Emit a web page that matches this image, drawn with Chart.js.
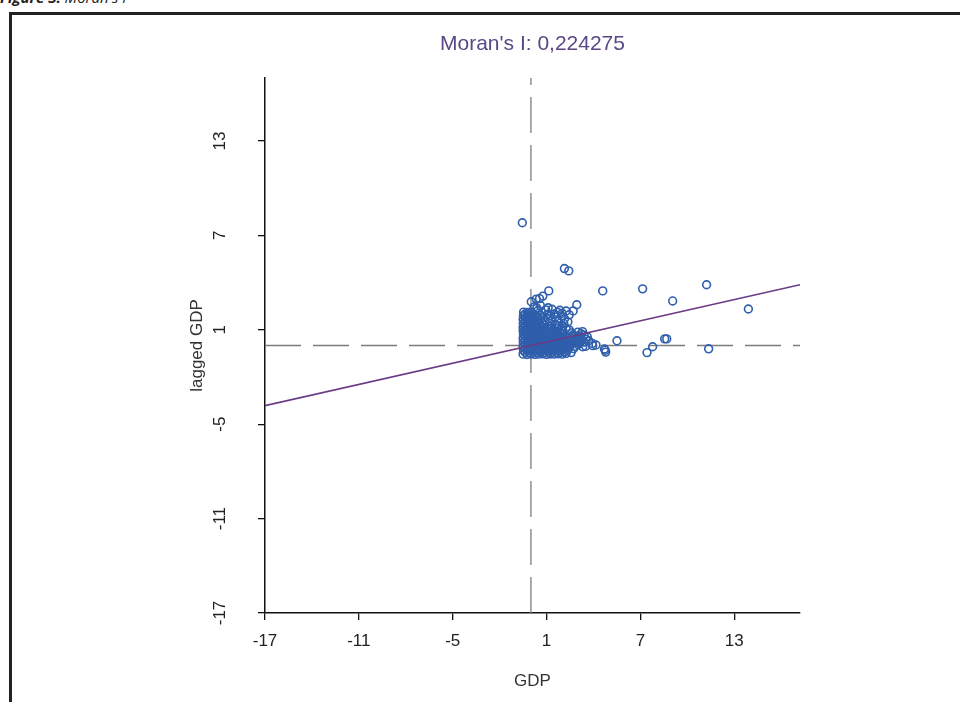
<!DOCTYPE html>
<html><head><meta charset="utf-8">
<script src="https://cdn.jsdelivr.net/npm/chart.js@4.4.1/dist/chart.umd.min.js"></script>
<style>
html,body{margin:0;padding:0;background:#fff;width:960px;height:702px;overflow:hidden;}
#cap{position:absolute;left:0;top:-13px;font-family:"Open Sans","Liberation Sans",sans-serif;font-size:15px;font-style:italic;color:#222;white-space:nowrap;}
#frame{position:absolute;left:9px;top:12px;width:960px;height:700px;border-left:3px solid #222;border-top:3px solid #222;}
#c{position:absolute;left:0;top:0;}
</style></head><body>
<div id="cap"><b>Figure 3:</b> Moran's I</div>
<div id="frame"></div>
<canvas id="c" width="960" height="702"></canvas>
<script>
// ---- data ----
const chartTitle = "Moran's I: 0,224275";
const xAxisLabel = "GDP";
const yAxisLabel = "lagged GDP";
const xTickValues = [-17, -11, -5, 1, 7, 13];
const yTickValues = [-17, -11, -5, 1, 7, 13];
const xRange = [-17, 17.2];
const yRange = [-17, 17];
const meanGDP = 0;
const meanLag = 0;
const fitGDP = [-17, 17.2];
const fitLag = [-3.82, 3.86];

// dense cluster around the origin [GDP, lagged GDP]
const clusterLow = [
 [-0.5,-0.55],[-0.25,-0.57],[0,-0.54],[0.25,-0.56],[0.5,-0.55],[0.75,-0.53],[1.0,-0.56],[1.25,-0.54],[1.5,-0.55],[1.75,-0.52],[2.0,-0.55],[2.25,-0.5],
 [-0.37,-0.43],[-0.12,-0.44],[0.13,-0.42],[0.38,-0.43],[0.63,-0.41],[0.88,-0.44],[1.13,-0.43],[1.38,-0.42],[1.63,-0.44],[1.88,-0.43],[2.13,-0.41],
 [-0.48,-0.3],[-0.22,-0.32],[0.03,-0.28],[0.27,-0.31],[0.52,-0.29],[0.78,-0.3],[1.02,-0.33],[1.27,-0.28],[1.52,-0.3],[1.77,-0.31],[2.02,-0.27],[2.3,-0.32],
 [-0.37,-0.18],[-0.12,-0.17],[0.13,-0.19],[0.38,-0.18],[0.63,-0.16],[0.88,-0.19],[1.13,-0.18],[1.38,-0.17],[1.63,-0.19],[1.88,-0.18],[2.13,-0.16],[2.4,-0.18],
 [-0.5,-0.05],[-0.24,-0.07],[0.01,-0.03],[0.26,-0.06],[0.5,-0.04],[0.76,-0.07],[1.01,-0.05],[1.26,-0.02],[1.5,-0.06],[1.76,-0.04],[2.01,-0.07],[2.28,-0.03],
 [-0.37,0.07],[-0.12,0.08],[0.13,0.06],[0.38,0.07],[0.63,0.09],[0.88,0.06],[1.13,0.07],[1.38,0.08],[1.63,0.06],[1.88,0.07],[2.13,0.09],[2.4,0.07],
 [-0.49,0.2],[-0.25,0.18],[0.02,0.22],[0.25,0.19],[0.51,0.21],[0.77,0.18],[1.0,0.22],[1.24,0.2],[1.51,0.17],[1.75,0.21],[2.0,0.19],[2.26,0.23],
 [-0.37,0.32],[-0.12,0.33],[0.13,0.31],[0.38,0.32],[0.63,0.34],[0.88,0.31],[1.13,0.32],[1.38,0.33],[1.63,0.31],[1.88,0.32],[2.13,0.34],[2.38,0.32],
 [-0.5,0.45],[-0.23,0.43],[0.0,0.47],[0.24,0.44],[0.5,0.46],[0.75,0.43],[1.02,0.45],[1.25,0.47],[1.49,0.44],[1.74,0.46],[2.03,0.42],[2.24,0.47],
 [-0.37,0.57],[-0.12,0.58],[0.13,0.56],[0.38,0.57],[0.63,0.59],[0.88,0.56],[1.13,0.57],[1.38,0.58],[1.63,0.56],[1.88,0.57],[2.13,0.59],
 [-0.48,0.7],[-0.25,0.72],[0.01,0.69],[0.26,0.71],[0.49,0.7],[0.76,0.68],[1.0,0.72],[1.27,0.7],[1.5,0.73],[1.73,0.69],[2.0,0.71],
 [-0.37,0.8],[-0.12,0.81],[0.13,0.79],[0.38,0.8],[0.63,0.82],[0.88,0.79],[1.13,0.8],[1.38,0.81],[1.63,0.79],[1.88,0.8],
 [-0.5,0.92],[-0.24,0.9],[0.02,0.93],[0.27,0.89],[0.52,0.91],[0.8,0.94],[1.1,0.9],[1.4,0.93],[1.7,0.88],[2.05,0.92]
];
const clusterHigh = [
 [-0.5,1.15],[-0.25,1.13],[0.0,1.17],[0.25,1.14],
 [-0.37,1.02],[-0.12,1.03],[0.13,1.01],[0.38,1.02],
 [-0.49,1.4],[-0.24,1.38],[0.02,1.42],[0.27,1.39],
 [-0.37,1.27],[-0.12,1.28],[0.13,1.26],[0.38,1.27],
 [-0.5,1.65],[-0.23,1.63],[0.01,1.66],[0.24,1.62],
 [-0.37,1.52],[-0.12,1.53],[0.13,1.51],[0.36,1.52],
 [-0.48,1.9],[-0.25,1.88],[0.0,1.91],[0.26,1.87],
 [-0.37,1.77],[-0.12,1.78],[0.13,1.76],
 [-0.47,2.12],[-0.22,2.1],[0.03,2.13],
 [-0.37,2.0],[-0.12,2.01],[0.13,1.99],
 [0.5,1.1],[0.78,1.15],[1.05,1.08],[1.35,1.12],[1.65,1.1],[1.95,1.05],[2.25,1.1],[2.46,0.98],
 [0.4,1.0],[0.65,1.22],[0.9,1.05],[1.15,1.22],[1.45,1.0],[1.8,1.25],[2.1,1.4],
 [0.55,1.35],[0.85,1.3],[1.2,1.4],[1.55,1.33],[2.0,1.25],[2.36,1.5],
 [0.4,1.5],[0.7,1.45],[1.1,1.7],[1.55,1.8],[0.75,1.75],[0.4,1.85],[1.25,1.9],
 [0.5,1.62],[0.9,1.58],[1.35,1.65],[1.75,1.55],[2.15,1.7],
 [0.6,1.92],[1.05,1.97],[1.5,2.0],[1.95,1.88],[2.45,1.95],
 [0.7,2.1],[1.7,2.1],[2.0,2.05],
 [0.45,2.22],[0.95,2.26],[1.35,2.3],[1.85,2.24],[2.25,2.19],[2.7,2.2],
 [0.2,2.45],[0.6,2.55],[0.38,2.38],[1.1,2.4]
];
const clusterTail = [
 [2.5,0.3],[2.75,0.28],[3.0,0.32],[3.25,0.35],[3.5,0.4],
 [2.6,0.42],[2.9,0.45],[3.2,0.48],
 [2.5,0.55],[2.8,0.6],[3.1,0.6],[3.4,0.65],[3.6,0.55],
 [2.7,0.68],[3.2,0.75],
 [2.6,0.8],[3.0,0.85],[3.3,0.88],
 [2.65,0.15],[2.9,0.18],[3.15,0.2],[3.4,0.22],[3.7,0.3],
 [2.5,0.02],[2.72,-0.2],[2.57,-0.45],[3.0,0.05],[3.31,-0.08],[3.5,-0.05],[2.45,-0.15],[2.85,-0.05],
 [3.93,0.13],[3.95,-0.01],[4.16,0.03],[4.7,-0.22],[4.78,-0.42],[4.75,-0.3]
];
const outliers = [
 [-0.55,7.8],[2.14,4.89],[2.42,4.74],
 [1.14,3.47],[0.76,3.14],[0.55,2.98],[0.34,2.95],[0.02,2.78],
 [2.93,2.59],[4.59,3.47],[7.14,3.6],[11.23,3.86],[9.06,2.83],[13.9,2.32],
 [5.5,0.3],[8.55,0.42],[8.68,0.42],[7.78,-0.08],[7.42,-0.45],[11.36,-0.21]
];

const toXY = a => a.map(p => ({x: p[0], y: p[1]}));
const allPoints = toXY(clusterLow.concat(clusterHigh, clusterTail, outliers));
const fitLine = fitGDP.map((v, i) => ({x: v, y: fitLag[i]}));
const vLine = [{x: meanGDP, y: yRange[0]}, {x: meanGDP, y: yRange[1]}];
const hLine = [{x: xRange[0], y: meanLag}, {x: xRange[1], y: meanLag}];

const FONT = "'Liberation Sans', Arial, sans-serif";
const dash = {borderColor: '#7d7d7d', borderWidth: 1.3, borderDash: [36, 12], pointRadius: 0, fill: false, order: 2};

new Chart(document.getElementById('c').getContext('2d'), {
  type: 'scatter',
  data: {
    datasets: [
      Object.assign({type: 'line', data: vLine}, dash),
      Object.assign({type: 'line', data: hLine}, dash),
      {type: 'scatter', data: allPoints, borderColor: '#2f5fac', backgroundColor: 'rgba(0,0,0,0)', borderWidth: 1.6, pointRadius: 3.9, pointHoverRadius: 3.9, order: 1},
      {type: 'line', data: fitLine, borderColor: '#6b3b86', borderWidth: 1.6, pointRadius: 0, fill: false, tension: 0, order: 0}
    ]
  },
  options: {
    responsive: false, animation: false, devicePixelRatio: 1,
    layout: {padding: {left: 170, right: 160, top: 0, bottom: 0}},
    plugins: {
      legend: {display: false}, tooltip: {enabled: false},
      title: {display: true, text: chartTitle, fullSize: false, color: '#5b4784',
        font: {family: FONT, size: 21, weight: 'normal'}, padding: {top: 32, bottom: 20.8}}
    },
    scales: {
      x: {
        type: 'linear', min: xRange[0], max: xRange[1],
        afterBuildTicks: s => { s.ticks = xTickValues.map(v => ({value: v})); },
        afterFit: s => { s.height = 89; },
        ticks: {color: '#222', font: {family: FONT, size: 17}, padding: 11, maxRotation: 0, minRotation: 0},
        grid: {drawOnChartArea: false, drawTicks: true, tickLength: 7, color: '#111', lineWidth: 1.3},
        border: {display: true, color: '#111', width: 1.5},
        title: {display: true, text: xAxisLabel, color: '#333', font: {family: FONT, size: 17}, padding: {top: 0, bottom: 10}}
      },
      y: {
        type: 'linear', min: yRange[0], max: yRange[1],
        afterBuildTicks: s => { s.ticks = yTickValues.map(v => ({value: v})); },
        afterFit: s => { s.width = 95; },
        ticks: {color: '#222', font: {family: FONT, size: 17}, padding: 25, minRotation: 90, maxRotation: 90, crossAlign: 'center'},
        grid: {drawOnChartArea: false, drawTicks: true, tickLength: 7, color: '#111', lineWidth: 1.3},
        border: {display: true, color: '#111', width: 1.5},
        title: {display: true, text: yAxisLabel, color: '#333', font: {family: FONT, size: 17}, padding: {top: 17, bottom: 0}}
      }
    }
  }
});
</script></body></html>
